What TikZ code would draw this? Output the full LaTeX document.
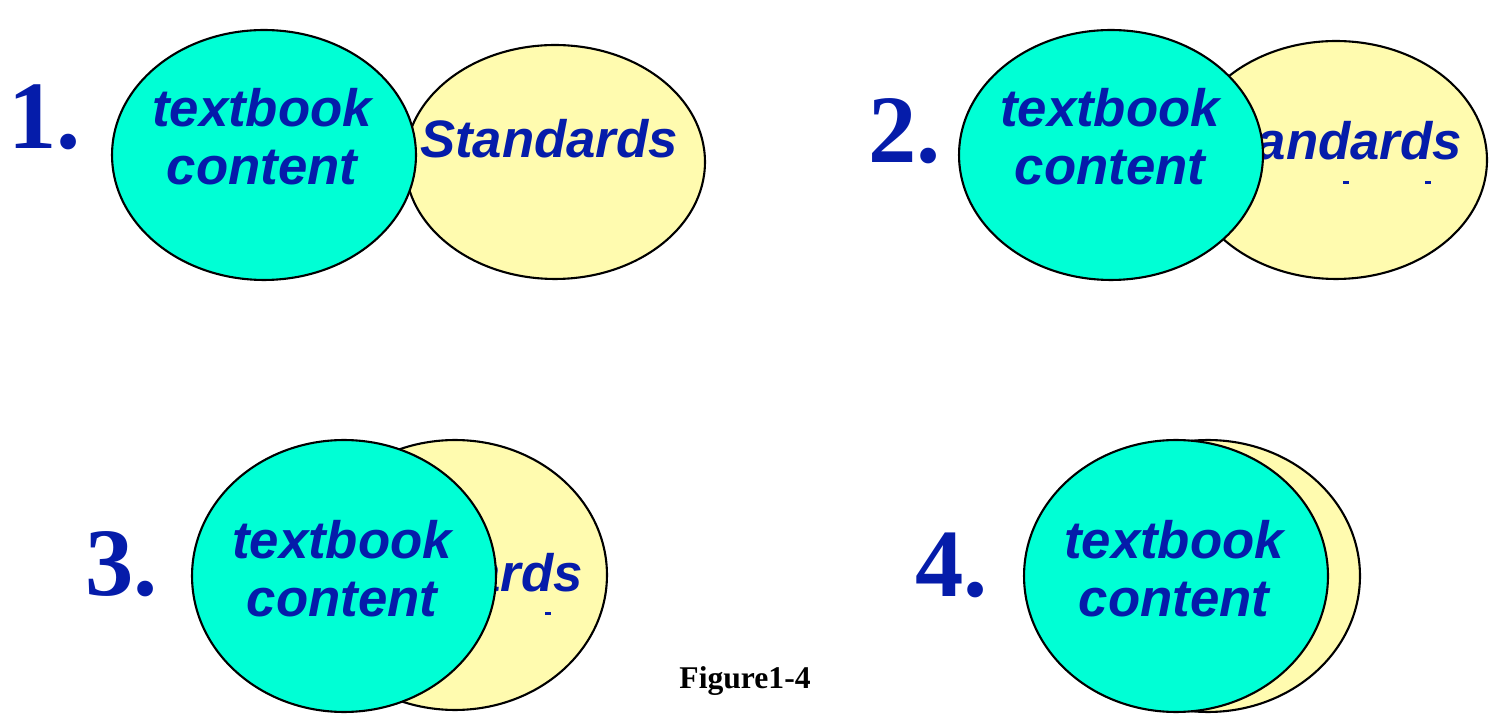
\documentclass[tikz,border=0pt]{standalone}
\usepackage{fontspec}
\setmainfont{Liberation Serif}
\setsansfont{Liberation Sans}
\usepackage{tikz}
\usetikzlibrary{shapes.geometric, positioning}
\definecolor{TextBlue}{RGB}{5, 28, 170}
\definecolor{BookGreen}{RGB}{0, 255, 213}
\definecolor{StdYellow}{RGB}{255, 251, 175}

\begin{document}
\begin{tikzpicture}[x=0.02cm, y=-0.02cm]
        \tikzstyle{book} = [ellipse, draw=black, line width=1.2pt, fill=BookGreen, inner sep=0pt, minimum width=6.08cm]
        \tikzstyle{std} = [ellipse, draw=black, line width=1.2pt, fill=StdYellow, inner sep=0pt]
        \tikzstyle{word} = [inner sep=0pt, text=TextBlue, font=\sffamily\bfseries\itshape\fontsize{30}{33}\selectfont, align=center]
        \tikzstyle{num} = [inner sep=0pt, anchor=base west, text=TextBlue, font=\rmfamily\bfseries\fontsize{55}{60}\selectfont]
        \tikzstyle{tick} = [fill=TextBlue]

        \useasboundingbox (0,0) rectangle (1497,715);

        % 1. side by side
        \node (y1) [std, minimum width=6cm, minimum height=4.68cm] at (555,162) {};
        \node (s1) [word, anchor=base] at (549,158) {Standards};
        \node (g1) [book, minimum height=5cm] at (264,155) {};
        \node (t1) [word, anchor=north] at (262,88) {textbook\\content};
        \node (n1) [num] at (8,149) {1.};

        % 2. some overlap
        \node (y2) [std, minimum width=6.04cm, minimum height=4.76cm] at (1336,160) {};
        \node (s2) [word, anchor=base] at (1333,160) {Standards};
        \fill [tick] (1343,181) rectangle (1349,184);
        \fill [tick] (1425,181) rectangle (1431,184);
        \node (g2) [book, minimum height=5cm] at (1111,155) {};
        \node (t2) [word, anchor=north] at (1110,88) {textbook\\content};
        \node (n2) [num] at (868,163) {2.};

        % 3. more overlap
        \node (y3) [std, minimum width=6.08cm, minimum height=5.4cm] at (455,575) {};
        \node (s3) [word, anchor=base] at (454,592) {Standards};
        \fill [tick] (545,612) rectangle (551,615);
        \node (g3) [book, minimum height=5.44cm] at (344,576) {};
        \node (t3) [word, anchor=north] at (342,520) {textbook\\content};
        \node (n3) [num] at (85,596) {3.};

        % 4. almost covered
        \node (y4) [std, minimum width=6.08cm, minimum height=5.44cm] at (1208,576) {};
        \node (g4) [book, minimum height=5.44cm] at (1176,576) {};
        \node (t4) [word, anchor=north] at (1174,520) {textbook\\content};
        \node (n4) [num] at (915,597) {4.};

        % Caption
        \node (cap) [inner sep=0pt, anchor=base, font=\rmfamily\bfseries\fontsize{18}{20}\selectfont] at (745,688) {Figure1-4};
    \end{tikzpicture}
\end{document}
